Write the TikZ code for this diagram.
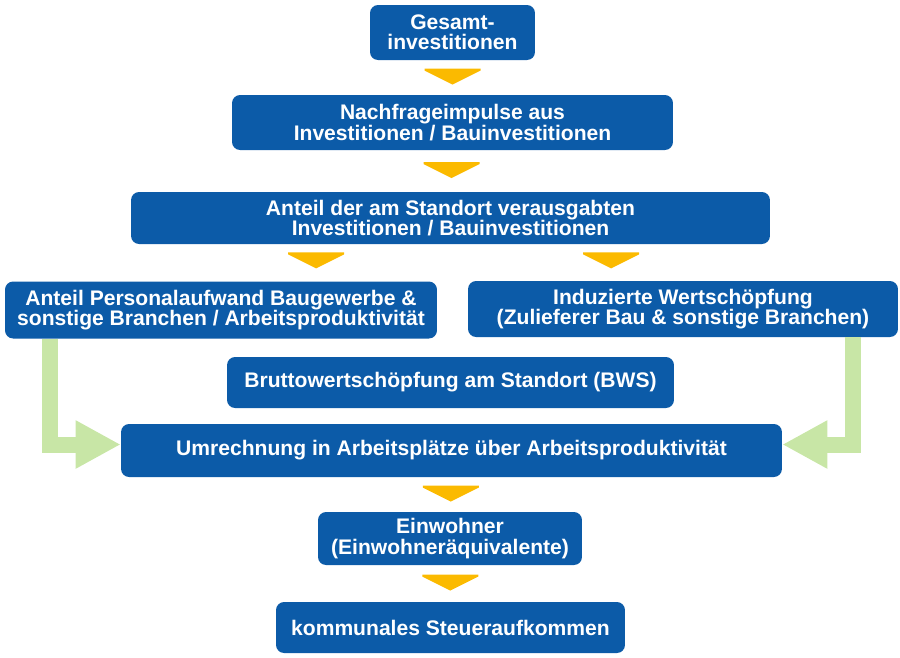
\documentclass[tikz,border=0pt]{standalone}
\usepackage{fontspec}
\setmainfont{Liberation Sans}
\usetikzlibrary{calc}
\usetikzlibrary{arrows.meta}
\definecolor{boxblue}{RGB}{12,91,168}
\definecolor{arryellow}{RGB}{251,186,0}
\definecolor{flowgreen}{RGB}{200,230,166}
\tikzset{
  box/.style={
    fill=boxblue, text=white, rounded corners=0.16cm,
    align=center, inner sep=0,
    font=\fontsize{12}{11.5}\selectfont\bfseries,
  },
  arr/.style={fill=arryellow},
  flow/.style={draw=flowgreen, line width=0.32cm, line join=miter,
    -{Triangle[width=0.9cm,length=0.9cm]}}
}
\newcommand{\downtri}[1]{\fill[arr] #1 +(-28,0) -- +(28,0) -- +(28,2) -- +(0,16) -- +(-28,2) -- cycle;}

\begin{document}
\begin{tikzpicture}[x=0.02cm,y=-0.02cm]
    \useasboundingbox (0,0) rectangle (900,657);

    \node[box,minimum width=3.30cm,minimum height=1.10cm] (n1) at (452.5,32.5) {Gesamt-\\investitionen};
    \node[box,minimum width=8.82cm,minimum height=1.10cm] (n2) at (452.5,122.5) {Nachfrageimpulse aus\\Investitionen / Bauinvestitionen};
    \node[box,minimum width=12.78cm,minimum height=1.04cm] (n3) at (450.5,218) {Anteil der am Standort verausgabten\\Investitionen / Bauinvestitionen};

    \node[box,minimum width=8.64cm,minimum height=1.14cm] (n4) at (221,310) {Anteil Personalaufwand Baugewerbe \&\\sonstige Branchen / Arbeitsproduktivität};
    \node[box,minimum width=8.60cm,minimum height=1.12cm] (n5) at (683,309) {Induzierte Wertschöpfung\\(Zulieferer Bau \& sonstige Branchen)};

    \node[box,minimum width=8.94cm,minimum height=1.02cm] (n6) at (450.5,382.5) {Bruttowertschöpfung am Standort (BWS)};
    \node[box,minimum width=13.22cm,minimum height=1.06cm] (n7) at (451.5,450.5) {Umrechnung in Arbeitsplätze über Arbeitsproduktivität};
    \node[box,minimum width=5.28cm,minimum height=1.06cm] (n8) at (450,538.5) {Einwohner\\(Einwohneräquivalente)};
    \node[box,minimum width=6.98cm,minimum height=1.02cm] (n9) at (450.5,627.5) {kommunales Steueraufkommen};

    % yellow arrows
    \downtri{($(n1.south)!0.5!(n2.north)+(0,-9)$)}
    \downtri{($(n2.south)!0.5!(n3.north)+(0,-9)$)}
    \downtri{($(n3.south west)!0.29!(n3.south east)+(0,8)$)}
    \downtri{($(n3.south west)!0.751!(n3.south east)+(0,8)$)}
    \downtri{($(n7.south)!0.5!(n8.north)+(0,-9)$)}
    \downtri{($(n8.south)!0.5!(n9.north)+(0,-9)$)}

    % green arrows
    \draw[flow] ($(n4.south west)+(45,0)$) |- ($(n7.west)+(0,-6)$);
    \draw[flow] ($(n5.south east)+(-45,0)$) |- ($(n7.east)+(0,-6)$);
\end{tikzpicture}
\end{document}
